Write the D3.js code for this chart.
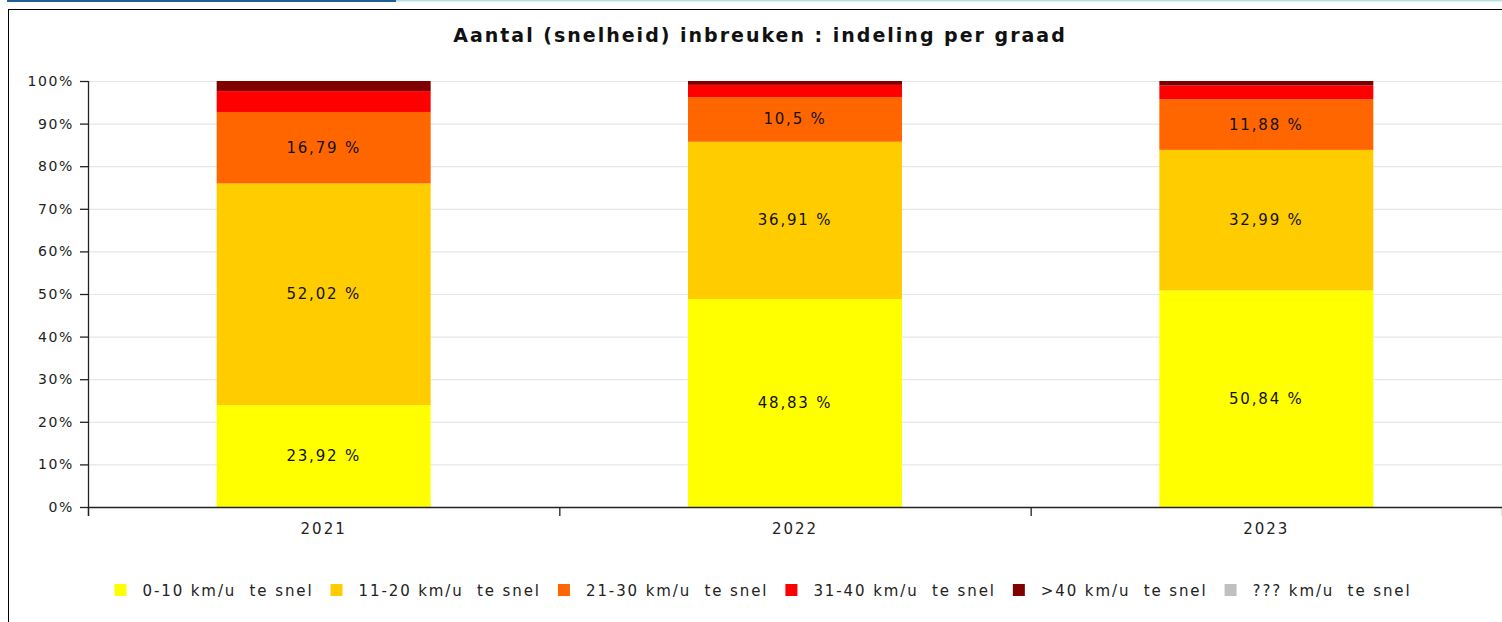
<!DOCTYPE html>
<html lang="nl">
<head>
  <meta charset="UTF-8">
  <title>Aantal (snelheid) inbreuken</title>
  <script src="https://d3js.org/d3.v7.min.js"></script>
  <style>
    body { margin: 0; background: #fff; overflow: hidden; }
    svg { display: block; font-family: "DejaVu Sans", sans-serif; }
    text { white-space: pre; }
  </style>
</head>
<body>
  <svg id="chart" width="1502" height="622"></svg>

  <script>
    // data
    const years = ["2021", "2022", "2023"];
    const seriesNames = [
      "0-10 km/u  te snel",
      "11-20 km/u  te snel",
      "21-30 km/u  te snel",
      "31-40 km/u  te snel",
      ">40 km/u  te snel",
      "??? km/u  te snel"
    ];
    const seriesColors = ["#ffff00", "#ffcc00", "#ff6600", "#ff0000", "#800000", "#c0c0c0"];
    const grade0to10 = [23.92, 48.83, 50.84];
    const grade11to20 = [52.02, 36.91, 32.99];
    const grade21to30 = [16.79, 10.5, 11.88];
    const grade31to40 = [4.90, 2.85, 3.22];
    const gradeOver40 = [2.37, 0.91, 1.07];
    const gradeUnknown = [0, 0, 0];
    const yTicks = [0, 10, 20, 30, 40, 50, 60, 70, 80, 90, 100];

    const allSeries = [grade0to10, grade11to20, grade21to30, grade31to40, gradeOver40, gradeUnknown];
    const rows = years.map((yr, i) => {
      const r = { year: yr };
      allSeries.forEach((s, k) => r["s" + k] = s[i]);
      return r;
    });
    const keys = allSeries.map((s, k) => "s" + k);

    const svg = d3.select("#chart");

    // frame
    svg.append("rect").attr("x", 7).attr("y", 0).attr("width", 389).attr("height", 2).attr("fill", "#1f5f98");
    svg.append("rect").attr("x", 396).attr("y", 0).attr("width", 1106).attr("height", 1.5).attr("fill", "#b4e2e4");
    svg.append("rect")
      .attr("x", 8.5).attr("y", 9.5).attr("width", 1520).attr("height", 640)
      .attr("fill", "none").attr("stroke", "#000").attr("stroke-width", 1);

    const plotLeft = 88, plotRight = 1502, plotTop = 81, plotBottom = 507;

    const x = d3.scaleBand()
      .domain(years)
      .range([plotLeft, plotRight])
      .paddingInner(0.546)
      .paddingOuter(0.273);

    const y = d3.scaleLinear()
      .domain([0, 100])
      .range([plotBottom, plotTop]);

    // grid
    svg.append("g")
      .selectAll("line")
      .data(yTicks.filter(d => d > 0))
      .enter().append("line")
      .attr("x1", plotLeft).attr("x2", plotRight)
      .attr("y1", d => y(d) + 0.5).attr("y2", d => y(d) + 0.5)
      .attr("stroke", "#e6e6e6").attr("stroke-width", 1.2);

    // bars
    const stacked = d3.stack().keys(keys)(rows);
    const layers = svg.append("g").selectAll("g")
      .data(stacked)
      .enter().append("g")
      .attr("fill", (d, i) => seriesColors[i]);

    layers.selectAll("rect")
      .data(d => d)
      .enter().append("rect")
      .attr("x", d => x(d.data.year))
      .attr("y", d => y(d[1]))
      .attr("width", x.bandwidth())
      .attr("height", d => y(d[0]) - y(d[1]));

    // segment labels
    layers.selectAll("text")
      .data(d => d.filter(p => p[1] - p[0] >= 10))
      .enter().append("text")
      .attr("x", d => x(d.data.year) + x.bandwidth() / 2)
      .attr("y", d => y((d[0] + d[1]) / 2) + 5)
      .attr("text-anchor", "middle")
      .attr("font-size", 15)
      .attr("letter-spacing", 1.8)
      .attr("fill", "#111")
      .text(d => String(+(d[1] - d[0]).toFixed(2)).replace(".", ",") + " %");

    // y axis
    const yAxis = svg.append("g")
      .attr("transform", `translate(${plotLeft},0)`)
      .call(d3.axisLeft(y).tickValues(yTicks).tickSize(8).tickPadding(6).tickFormat(d => d + "%"));
    yAxis.select(".domain").remove();
    yAxis.append("line")
      .attr("x1", 0.5).attr("x2", 0.5).attr("y1", plotTop).attr("y2", plotBottom + 9)
      .attr("stroke", "#222").attr("stroke-width", 1.3);
    yAxis.selectAll(".tick line").attr("stroke", "#222").attr("stroke-width", 1.3);
    yAxis.selectAll(".tick text")
      .attr("font-size", 14).attr("letter-spacing", 1.6).attr("fill", "#222")
      .attr("font-family", "DejaVu Sans");

    // x axis
    const xAxis = svg.append("g")
      .attr("transform", `translate(0,${plotBottom})`)
      .call(d3.axisBottom(x).tickSize(0).tickPadding(16));
    xAxis.select(".domain").remove();
    xAxis.append("line")
      .attr("x1", plotLeft).attr("x2", plotRight).attr("y1", 0.5).attr("y2", 0.5)
      .attr("stroke", "#222").attr("stroke-width", 1.3);
    xAxis.selectAll(".tick text")
      .attr("font-size", 15).attr("letter-spacing", 2).attr("fill", "#222")
      .attr("font-family", "DejaVu Sans");
    // category boundary marks
    const step = x.step();
    xAxis.selectAll(".sep")
      .data(d3.range(years.length + 1))
      .enter().append("line")
      .attr("x1", i => plotLeft + i * step + 0.5).attr("x2", i => plotLeft + i * step + 0.5)
      .attr("y1", 0).attr("y2", 9)
      .attr("stroke", "#222").attr("stroke-width", 1.3);

    // title
    svg.append("text")
      .attr("x", 760).attr("y", 42)
      .attr("text-anchor", "middle")
      .attr("font-size", 19).attr("font-weight", "bold")
      .attr("letter-spacing", 2)
      .attr("fill", "#111")
      .text("Aantal (snelheid) inbreuken : indeling per graad");

    // legend
    const legend = svg.append("g").attr("transform", "translate(0,590)");
    const items = legend.selectAll("g")
      .data(seriesNames)
      .enter().append("g");
    items.append("rect")
      .attr("y", -6).attr("width", 12).attr("height", 12)
      .attr("fill", (d, i) => seriesColors[i]);
    items.append("text")
      .attr("x", 28).attr("y", 6)
      .attr("font-size", 15).attr("letter-spacing", 1.9)
      .attr("fill", "#222")
      .text(d => d);
    const widths = [];
    items.each(function () {
      widths.push(28 + d3.select(this).select("text").node().getComputedTextLength());
    });
    const gap = 17;
    const total = d3.sum(widths) + gap * (widths.length - 1);
    let pos = 763 - total / 2;
    items.attr("transform", (d, i) => {
      const t = `translate(${pos},0)`;
      pos += widths[i] + gap;
      return t;
    });
  </script>
</body>
</html>
